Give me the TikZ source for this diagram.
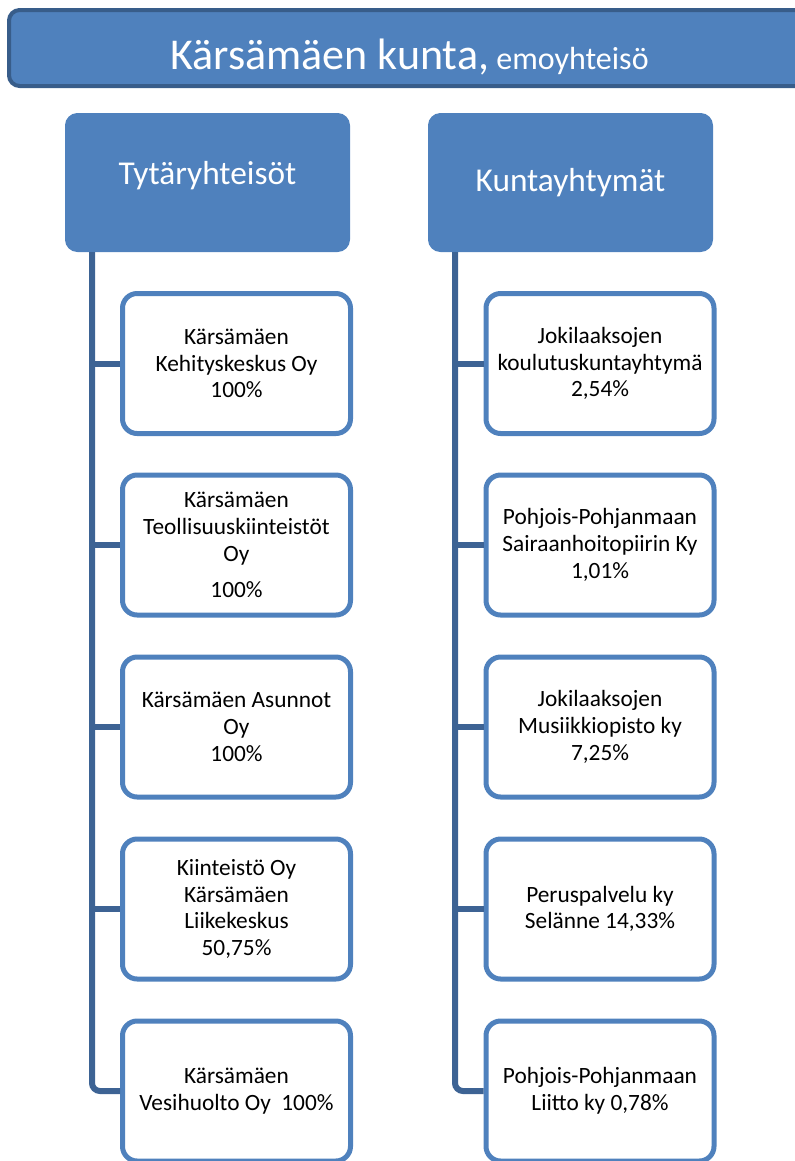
\documentclass[tikz,border=0pt]{standalone}
\usepackage{fontspec}
\setmainfont{Carlito}
\usetikzlibrary{calc}

\definecolor{accent}{RGB}{79,129,189}
\definecolor{accentdark}{RGB}{56,93,138}
\definecolor{linkblue}{RGB}{61,99,148}

\tikzset{
  topbar/.style={draw=accentdark, line width=3pt, fill=accent, rounded corners=8pt,
    minimum width=600.75pt, minimum height=57pt, inner sep=0pt, text=white,
    text height=31.5pt, text depth=0pt},
  head/.style={draw=accent, line width=0.75pt, fill=accent, rounded corners=9pt,
    minimum width=213pt, minimum height=103.5pt, inner sep=0pt, text=white,
    font=\fontsize{25}{30}\selectfont},
  unit/.style={draw=accent, line width=3.75pt, fill=white, rounded corners=11pt,
    minimum width=171pt, minimum height=105pt, inner sep=0pt, align=center,
    font=\fontsize{17.5}{20}\selectfont},
  link/.style={draw=linkblue, line width=4.5pt},
}

\begin{document}
\begin{tikzpicture}[x=0.75pt,y=-0.75pt]
  \useasboundingbox (0,0) rectangle (795,1161);
  % parent
  \node[topbar] (kunta) at (409.5,48)
    {\fontsize{33}{38}\selectfont K\"ars\"am\"aen kunta,{\fontsize{24}{28}\selectfont\ emoyhteis\"o}};
  % group headers
  \node[head, text height=3pt, text depth=0pt] (tyt) at (207.5,182.5) {Tyt\"aryhteis\"ot};
  \node[head, text height=13.5pt, text depth=0pt] (kyt) at (570.5,182.5) {Kuntayhtym\"at};
  % subsidiaries
  \node[unit] (t1) at (236.5,363.5) {K\"ars\"am\"aen\\Kehityskeskus Oy\\100\%};
  \node[unit] (t2) at (236.5,545) {K\"ars\"am\"aen\\Teollisuuskiinteist\"ot\\Oy\\[7pt]100\%};
  \node[unit] (t3) at (236.5,727) {K\"ars\"am\"aen Asunnot\\Oy\\100\%};
  \node[unit] (t4) at (236.5,909) {Kiinteist\"o Oy\\K\"ars\"am\"aen\\Liikekeskus\\50,75\%};
  \node[unit] (t5) at (236.5,1091) {K\"ars\"am\"aen\\Vesihuolto Oy\ \ 100\%};
  % joint authorities
  \node[unit] (k1) at (600,363.5) {Jokilaaksojen\\koulutuskuntayhtym\"a\\2,54\%};
  \node[unit] (k2) at (600,545) {Pohjois-Pohjanmaan\\Sairaanhoitopiirin Ky\\1,01\%};
  \node[unit] (k3) at (600,727) {Jokilaaksojen\\Musiikkiopisto ky\\7,25\%};
  \node[unit] (k4) at (600,909) {Peruspalvelu ky\\Sel\"anne 14,33\%};
  \node[unit] (k5) at (600,1091) {Pohjois-Pohjanmaan\\Liitto ky 0,78\%};
  % spines
  \coordinate (ls) at ($(tyt.south west)+(27,0)$);
  \coordinate (rs) at ($(kyt.south west)+(27,0)$);
  \draw[link, rounded corners=6pt] (ls) |- (t5.west);
  \draw[link, rounded corners=6pt] (rs) |- (k5.west);
  % branches
  \foreach \i in {1,...,4} {
    \draw[link] (ls |- t\i.west) -- (t\i.west);
    \draw[link] (rs |- k\i.west) -- (k\i.west);
  }
\end{tikzpicture}
\end{document}
